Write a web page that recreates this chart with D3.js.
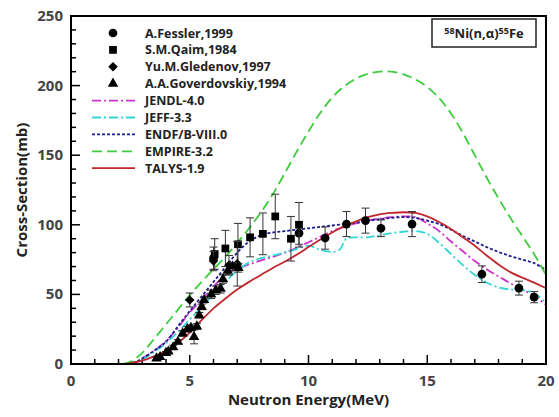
<!DOCTYPE html>
<html>
<head>
<meta charset="utf-8">
<script src="https://cdn.jsdelivr.net/npm/d3@7"></script>
<style>
  body { margin: 0; background: #fff; }
  text { font-family: "Open Sans", "DejaVu Sans", sans-serif; }
</style>
</head>
<body>
<div id="chart"></div>
<script>
// Experimental data: [energy MeV, cross-section mb, error mb]
const fessler = [[6.0, 76, 8], [9.6, 94, 8], [10.7, 90.5, 8], [11.6, 100.5, 9], [12.4, 103, 9],
  [13.05, 97.5, 6], [14.36, 100.5, 9], [17.3, 64.5, 6], [18.86, 54.5, 5], [19.5, 48, 4]];
const qaim = [[6.05, 79, 11], [6.5, 83, 13], [7.03, 86, 15], [7.54, 91, 14], [8.08, 93.5, 15],
  [8.6, 106, 16], [9.26, 90, 16], [9.6, 100, 16]];
const gledenov = [[5.0, 46, 5], [6.0, 74, 7], [6.65, 71, 7], [7.0, 72, 16]];
const goverdovskiy = [[3.6, 4, 1], [3.75, 5, 1], [4.0, 8, 1], [4.1, 9, 1], [4.3, 12, 1.5], [4.5, 16, 1.5],
  [4.7, 22, 2], [4.9, 25, 2], [5.05, 26, 2], [5.18, 19.5, 5], [5.3, 27, 2], [5.4, 35, 2], [5.5, 41, 2],
  [5.6, 46, 2], [5.9, 50, 3], [6.1, 53, 3], [6.3, 54, 3], [6.4, 61, 3], [6.6, 67, 3], [6.8, 70, 3], [7.05, 69, 3]];

// Evaluated libraries: [energy MeV, cross-section mb]
const jendl = [[2.3, 0], [2.7, 1.5], [3, 4], [3.5, 9.5], [4, 16.5], [4.5, 26], [5, 37], [5.5, 46], [6, 55.5],
  [6.3, 61], [6.5, 64], [7, 68.5], [7.5, 71.5], [8, 74.5], [8.5, 77], [9, 80], [9.5, 83.5], [10, 87.5],
  [10.5, 91.5], [11, 95.5], [11.5, 98.5], [12, 101], [12.5, 103], [13, 104.5], [13.5, 105.5], [14, 106],
  [14.5, 105.5], [15, 101], [15.5, 95.5], [16, 88], [16.5, 81], [17, 74], [17.5, 68], [18, 63], [18.5, 58],
  [19, 53.5], [19.5, 49], [20, 42.5]];
const jeff = [[2.3, 0], [2.7, 1.5], [3, 3.5], [3.5, 8.5], [4, 15], [4.5, 23], [5, 32], [5.5, 41], [6, 50],
  [6.5, 59], [7, 67], [7.5, 73], [8, 76], [8.5, 78], [9, 80], [9.5, 82.5], [10, 85], [10.5, 82], [11, 80.5],
  [11.3, 82], [11.6, 90], [12, 91], [12.5, 91], [13, 92.5], [13.5, 94], [14, 95], [14.5, 95.5], [15, 93.5],
  [15.5, 87], [16, 79], [16.5, 71], [17, 64], [17.5, 58.5], [18, 55], [18.5, 53.5], [19, 53], [19.5, 51], [20, 44]];
const endf = [[2.4, 0], [2.8, 2], [3, 4], [3.5, 9.5], [4, 16], [4.5, 27], [5, 38], [5.5, 48.5], [6, 59],
  [6.5, 69.5], [7, 80], [7.5, 88], [8, 92.5], [8.5, 94.5], [9, 95.5], [9.5, 96.5], [10, 97.5], [10.5, 98.5], [11, 99.5],
  [11.5, 100.5], [12, 101.5], [12.5, 103], [13, 104], [13.5, 105], [14, 105.5], [14.5, 105], [15, 103],
  [15.5, 100.5], [16, 96.5], [16.5, 92], [17, 88], [17.5, 84], [18, 80.5], [18.5, 77.5], [19, 75], [19.5, 72.5], [20, 67.5]];
const empire = [[2.2, 0], [2.5, 1.5], [3, 8], [3.5, 18], [4, 28.5], [4.5, 39], [5, 49.5], [5.5, 59], [6, 68],
  [6.5, 77], [7, 87], [7.5, 97.5], [8, 109], [8.5, 122], [9, 137], [9.5, 152.5], [10, 167], [10.5, 180.5], [11, 191.5],
  [11.5, 199.5], [12, 205], [12.5, 208.5], [13, 210], [13.5, 210], [14, 208], [14.5, 204.5], [15, 199],
  [15.5, 191], [16, 180], [16.5, 166], [17, 150], [17.5, 134], [18, 119], [18.5, 105], [19, 92], [19.5, 79], [20, 64]];
const talys = [[2.3, 0], [3, 2.5], [3.5, 5.5], [4, 9.5], [4.5, 15], [5, 22.5], [5.5, 31.5], [6, 40], [6.5, 47],
  [7, 53.5], [7.5, 59], [8, 64], [8.5, 69], [9, 73.5], [9.5, 78.5], [10, 84], [10.5, 89.5], [11, 94.5], [11.5, 99],
  [12, 102.5], [12.5, 105.5], [13, 107.5], [13.5, 108.5], [14, 109], [14.5, 108.5], [15, 106], [15.5, 102],
  [16, 97], [16.5, 91], [17, 85], [17.5, 78], [18, 71.5], [18.5, 66], [19, 62], [19.5, 58.5], [20, 54.5]];

const xTicks = [0, 5, 10, 15, 20];
const yTicks = [0, 50, 100, 150, 200, 250];

const width = 559, height = 417;
const margin = { top: 16, right: 13, bottom: 53, left: 71 };

const svg = d3.select('#chart').append('svg')
  .attr('width', width)
  .attr('height', height);

const x = d3.scaleLinear().domain([0, 20]).range([margin.left, width - margin.right]);
const y = d3.scaleLinear().domain([0, 250]).range([height - margin.bottom, margin.top]);

// Clip for curves
svg.append('clipPath').attr('id', 'plotClip')
  .append('rect')
  .attr('x', x(0)).attr('y', y(250))
  .attr('width', x(20) - x(0)).attr('height', y(0) - y(250));

// Minor / major ticks (inward)
const xAxis = svg.append('g').attr('transform', `translate(0,${y(0)})`);
xAxis.selectAll('line.minor')
  .data(d3.range(0, 21, 1))
  .enter().append('line')
  .attr('x1', d => x(d)).attr('x2', d => x(d))
  .attr('y1', 0).attr('y2', d => d % 5 === 0 ? -9 : -5)
  .attr('stroke', '#000').attr('stroke-width', 1.5);
xAxis.selectAll('text')
  .data(xTicks)
  .enter().append('text')
  .attr('x', d => x(d)).attr('y', 22)
  .attr('text-anchor', 'middle')
  .attr('font-size', 15).attr('font-weight', 'bold').attr('fill', '#444')
  .text(d => d);

const yAxis = svg.append('g').attr('transform', `translate(${x(0)},0)`);
yAxis.selectAll('line.minor')
  .data(d3.range(0, 251, 10))
  .enter().append('line')
  .attr('y1', d => y(d)).attr('y2', d => y(d))
  .attr('x1', 0).attr('x2', d => d % 50 === 0 ? 9 : 5)
  .attr('stroke', '#000').attr('stroke-width', 1.5);
yAxis.selectAll('text')
  .data(yTicks)
  .enter().append('text')
  .attr('x', -8).attr('y', d => y(d) + 5)
  .attr('text-anchor', 'end')
  .attr('font-size', 15).attr('font-weight', 'bold').attr('fill', '#444')
  .text(d => d);

// Axis titles
svg.append('text')
  .attr('x', (x(0) + x(20)) / 2).attr('y', 405)
  .attr('text-anchor', 'middle')
  .attr('font-size', 15).attr('font-weight', 'bold').attr('fill', '#222')
  .text('Neutron Energy(MeV)');
svg.append('text')
  .attr('transform', `translate(27,${(y(0) + y(250)) / 2}) rotate(-90)`)
  .attr('text-anchor', 'middle')
  .attr('font-size', 15).attr('font-weight', 'bold').attr('fill', '#222')
  .text('Cross-Section(mb)');

// Curves
const line = d3.line()
  .x(d => x(d[0]))
  .y(d => y(d[1]))
  .curve(d3.curveCatmullRom.alpha(0.5));

const curves = [
  { name: 'JENDL-4.0', data: jendl, color: '#cc33cc', dash: '9,3,2,3' },
  { name: 'JEFF-3.3', data: jeff, color: '#33d6d6', dash: '9,3,2,3' },
  { name: 'ENDF/B-VIII.0', data: endf, color: '#1c1c8a', dash: '3,2' },
  { name: 'EMPIRE-3.2', data: empire, color: '#3ccc3c', dash: '10,5' },
  { name: 'TALYS-1.9', data: talys, color: '#c0282d', dash: null }
];

const curveGroup = svg.append('g').attr('clip-path', 'url(#plotClip)');
curveGroup.selectAll('path')
  .data(curves)
  .enter().append('path')
  .attr('d', d => line(d.data))
  .attr('fill', 'none')
  .attr('stroke', d => d.color)
  .attr('stroke-width', 1.8)
  .attr('stroke-dasharray', d => d.dash);

// Experimental points with error bars
const sets = [
  { name: 'A.Fessler,1999', data: fessler, symbol: d3.symbolCircle, size: 60, rot: 0 },
  { name: 'S.M.Qaim,1984', data: qaim, symbol: d3.symbolSquare, size: 60, rot: 0 },
  { name: 'Yu.M.Gledenov,1997', data: gledenov, symbol: d3.symbolSquare, size: 45, rot: 45 },
  { name: 'A.A.Goverdovskiy,1994', data: goverdovskiy, symbol: d3.symbolTriangle, size: 48, rot: 0 }
];

sets.forEach(s => {
  const g = svg.append('g');
  const bars = g.selectAll('g.err')
    .data(s.data)
    .enter().append('g')
    .attr('stroke', '#333').attr('stroke-width', 1);
  bars.append('line')
    .attr('x1', d => x(d[0])).attr('x2', d => x(d[0]))
    .attr('y1', d => y(d[1] - d[2])).attr('y2', d => y(d[1] + d[2]));
  bars.append('line')
    .attr('x1', d => x(d[0]) - 4).attr('x2', d => x(d[0]) + 4)
    .attr('y1', d => y(d[1] - d[2])).attr('y2', d => y(d[1] - d[2]));
  bars.append('line')
    .attr('x1', d => x(d[0]) - 4).attr('x2', d => x(d[0]) + 4)
    .attr('y1', d => y(d[1] + d[2])).attr('y2', d => y(d[1] + d[2]));
  g.selectAll('path')
    .data(s.data)
    .enter().append('path')
    .attr('d', d3.symbol().type(s.symbol).size(s.size))
    .attr('transform', d => `translate(${x(d[0])},${y(d[1])}) rotate(${s.rot})`)
    .attr('fill', '#000');
});

// Legend
const legend = svg.append('g');
const legX = 113, legTextX = 145, legY0 = 33, legStep = 16.9;
sets.forEach((s, i) => {
  legend.append('path')
    .attr('d', d3.symbol().type(s.symbol).size(s.size))
    .attr('transform', `translate(${legX},${legY0 + i * legStep}) rotate(${s.rot})`)
    .attr('fill', '#000');
  legend.append('text')
    .attr('x', legTextX).attr('y', legY0 + i * legStep + 4.5)
    .attr('font-size', 12.5).attr('font-weight', 'bold').attr('fill', '#222')
    .text(s.name);
});
curves.forEach((c, j) => {
  const i = j + sets.length;
  legend.append('line')
    .attr('x1', 92).attr('x2', 135)
    .attr('y1', legY0 + i * legStep).attr('y2', legY0 + i * legStep)
    .attr('stroke', c.color).attr('stroke-width', 1.8)
    .attr('stroke-dasharray', c.dash);
  legend.append('text')
    .attr('x', legTextX).attr('y', legY0 + i * legStep + 4.5)
    .attr('font-size', 12.5).attr('font-weight', 'bold').attr('fill', '#222')
    .text(c.name);
});

// Reaction label box
svg.append('rect')
  .attr('x', 432).attr('y', 19).attr('width', 104).attr('height', 28)
  .attr('fill', '#fff').attr('stroke', '#222').attr('stroke-width', 1.5);
const lab = svg.append('text')
  .attr('x', 484).attr('y', 38)
  .attr('text-anchor', 'middle')
  .attr('font-size', 13).attr('font-weight', 'bold').attr('fill', '#222');
lab.append('tspan').attr('font-size', 9).attr('dy', -4).text('58');
lab.append('tspan').attr('dy', 4).text('Ni(n,α)');
lab.append('tspan').attr('font-size', 9).attr('dy', -4).text('55');
lab.append('tspan').attr('dy', 4).text('Fe');

// Frame
svg.append('rect')
  .attr('x', x(0)).attr('y', y(250))
  .attr('width', x(20) - x(0)).attr('height', y(0) - y(250))
  .attr('fill', 'none').attr('stroke', '#000').attr('stroke-width', 2);
</script>
</body>
</html>
